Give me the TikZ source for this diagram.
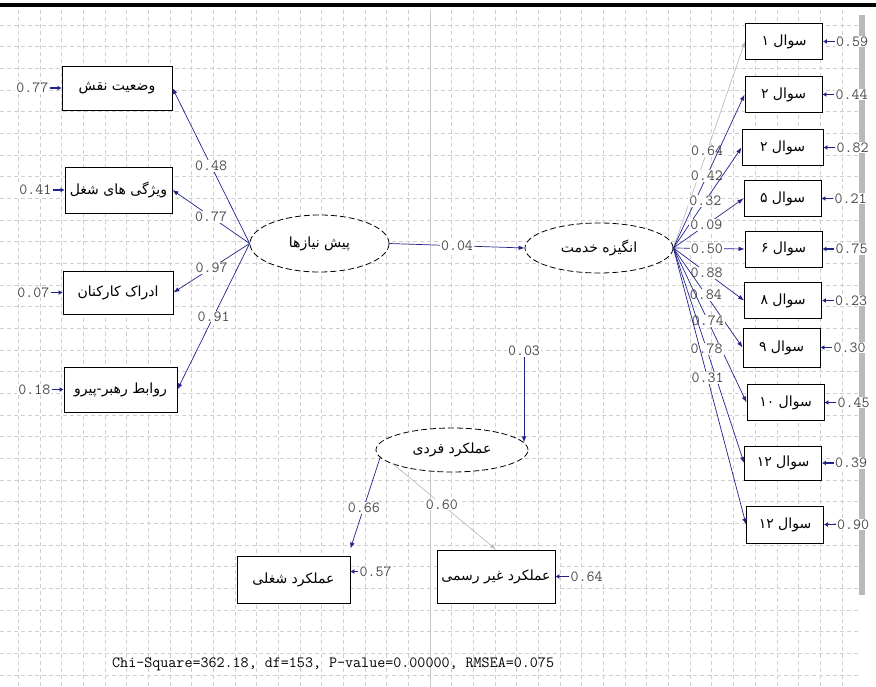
\documentclass[tikz,border=0pt]{standalone}
\usepackage{fontspec}
\usepackage{xcolor}
\usepackage{tikz}
\usetikzlibrary{arrows.meta,positioning,shapes.geometric}
\newfontfamily\fa[Script=Arabic]{DejaVu Sans}
\TeXXeTstate=1
\definecolor{navy}{HTML}{22228A}
\definecolor{gridgray}{HTML}{CFCFCF}
\definecolor{pagegray}{HTML}{C8C8C8}
\definecolor{labelgray}{HTML}{4A4A4A}
\definecolor{lightpath}{HTML}{BDBDBD}
\definecolor{bargray}{HTML}{B9B9B9}

\begin{document}
\begin{tikzpicture}[
  x=1pt,y=-1pt,
  node distance=12pt,
  obs/.style={
    draw,
    line width=0.9pt,
    fill=white,
    inner sep=0pt,
    minimum width=110pt,
    minimum height=44pt,
    font=\fa\fontsize{14}{16}\selectfont
  },
  item/.style={
    obs,
    minimum width=77pt,
    minimum height=36pt
  },
  latent/.style={
    ellipse,
    draw,
    fill=white,
    dash pattern=on 6pt off 3pt,
    line width=0.8pt,
    inner sep=0pt,
    font=\fa\fontsize{14}{16}\selectfont
  },
  coef/.style={font=\ttfamily\fontsize{15.5}{15.5}\selectfont,text=labelgray,fill=white,inner sep=1pt},
  load/.style={-{Latex[length=6pt,width=4.5pt]},line width=0.7pt,draw=navy},
  faint/.style={load,draw=lightpath},
  errarrow/.style={-{Latex[length=4pt,width=5pt]},line width=1.4pt,draw=navy},
  gridline/.style={draw=gridgray,line width=0.5pt,dash pattern=on 4pt off 3pt}
]
\useasboundingbox (0,0) rectangle (876,687);

% background grid of the LISREL window
\foreach \gx in {0,...,38}
  \draw[gridline] ({18.3+21.67*\gx},10) -- ({18.3+21.67*\gx},687);
\foreach \gy in {1,...,31}
  \draw[gridline] (0,{3.3+21.67*\gy}) -- (860,{3.3+21.67*\gy});
\draw[pagegray,line width=0.6pt] (430,10) -- (430,687);
\fill (0,3) rectangle (876,7.5);
\fill[bargray] (859,15) rectangle (864.5,595);

% latent variables
\node[latent,minimum width=139pt,minimum height=57pt] (pre) at (319.5,243.5) {\beginR پیش نیازها\endR};
\node[latent,minimum width=148pt,minimum height=50pt] (mot) at (599,248) {\beginR انگیزه خدمت\endR};
\node[latent,minimum width=152pt,minimum height=44pt] (perf) at (452,450) {\beginR عملکرد فردی\endR};

% indicators of pish-niazha
\node[obs] (role) at (117,88) {\beginR وضعیت نقش\endR};
\node[obs,minimum width=107pt,minimum height=46pt] (jobchar) at (118.5,190) {\beginR ویژگی های شغل\endR};
\node[obs,minimum height=43pt] (percept) at (118,292.5) {\beginR ادراک کارکنان\endR};
\node[obs,minimum width=113pt,minimum height=45pt] (leader) at (120.5,389.5) {\beginR روابط رهبر-پیرو\endR};

\node[coef,left=of role] (erole) {0.77};
\node[coef,left=of jobchar] (ejobchar) {0.41};
\node[coef,left=of percept] (epercept) {0.07};
\node[coef,left=of leader] (eleader) {0.18};

% indicators of angize khedmat
\node[item] (q1) at (784,41.5) {\beginR سوال ۱\endR};
\node[item] (q2) at (783.5,94.5) {\beginR سوال ۲\endR};
\node[item,minimum width=81pt] (q3) at (782.5,147.5) {\beginR سوال ۲\endR};
\node[item] (q5) at (782.5,198.5) {\beginR سوال ۵\endR};
\node[item] (q6) at (783.5,249) {\beginR سوال ۶\endR};
\node[item] (q8) at (783,300.5) {\beginR سوال ۸\endR};
\node[item,minimum height=39pt] (q9) at (781.5,347.5) {\beginR سوال ۹\endR};
\node[item] (q10) at (785.5,402.5) {\beginR سوال ۱۰\endR};
\node[item,minimum height=34pt] (q11) at (783,463) {\beginR سوال ۱۲\endR};
\node[item,minimum height=37pt] (q12) at (785,524.5) {\beginR سوال ۱۲\endR};

\node[coef,right=of q1] (eq1) {0.59};
\node[coef,right=of q2] (eq2) {0.44};
\node[coef,right=of q3] (eq3) {0.82};
\node[coef,right=of q5] (eq5) {0.21};
\node[coef,right=of q6] (eq6) {0.75};
\node[coef,right=of q8] (eq8) {0.23};
\node[coef,right=of q9] (eq9) {0.30};
\node[coef,right=of q10] (eq10) {0.45};
\node[coef,right=of q11] (eq11) {0.39};
\node[coef,right=of q12] (eq12) {0.90};

% indicators of amalkard fardi
\node[obs,minimum width=113pt,minimum height=47pt] (jobperf) at (293.5,579.5) {\beginR عملکرد شغلی\endR};
\node[obs,minimum width=118pt,minimum height=53pt] (infperf) at (496,576.5) {\beginR عملکرد غیر رسمی\endR};
\node[coef,right=8pt of jobperf.north east,anchor=west,yshift=-16pt] (ejob) {0.57};
\node[coef,right=14pt of infperf] (einf) {0.64};
\node[coef] (eperf) at (524,351) {0.03};

% structural path
\draw[load] (pre.east) -- node[coef]{0.04} (mot.west);
\draw[load] (eperf.south) -- (eperf.south |- perf.6);

% loadings
\draw[load] (pre.west) -- node[coef]{0.48} (role.east);
\draw[load] (pre.west) -- node[coef]{0.77} (jobchar.east);
\draw[load] (pre.west) -- node[coef]{0.97} (percept.east);
\draw[load] (pre.west) -- node[coef]{0.91} (leader.east);

\draw[faint] (mot.east) -- node[coef,pos=0.47]{0.64} (q1.west);
\draw[load] (mot.east) -- node[coef,pos=0.47]{0.42} (q2.west);
\draw[load] (mot.east) -- node[coef,pos=0.47]{0.32} (q3.west);
\draw[load] (mot.east) -- node[coef,pos=0.47]{0.09} (q5.west);
\draw[load] (mot.east) -- node[coef,pos=0.47]{0.50} (q6.west);
\draw[load] (mot.east) -- node[coef,pos=0.47]{0.88} (q8.west);
\draw[load] (mot.east) -- node[coef,pos=0.47]{0.84} (q9.west);
\draw[load] (mot.east) -- node[coef,pos=0.47]{0.74} (q10.west);
\draw[load] (mot.east) -- node[coef,pos=0.47]{0.78} (q11.west);
\draw[load] (mot.east) -- node[coef,pos=0.47]{0.31} (q12.west);

\draw[load] (perf.186) -- node[coef,pos=0.55]{0.66} ([yshift=7pt]jobperf.north east);
\draw[faint] (perf.194) -- node[coef,pos=0.47]{0.60} (infperf.north);

% error terms
\foreach \e/\v in {erole/role,ejobchar/jobchar,epercept/percept,eleader/leader,
                   eq1/q1,eq2/q2,eq3/q3,eq5/q5,eq6/q6,eq8/q8,eq9/q9,eq10/q10,eq11/q11,eq12/q12,
                   einf/infperf}
  \draw[errarrow] (\e) -- (\v);
\draw[errarrow] (ejob.west) -- (ejob.west -| jobperf.east);

\node[font=\ttfamily\fontsize{15.6}{16}\selectfont,anchor=west,inner sep=0pt] (fit) at (112,664) {Chi-Square=362.18, df=153, P-value=0.00000, RMSEA=0.075};
\end{tikzpicture}
\end{document}
